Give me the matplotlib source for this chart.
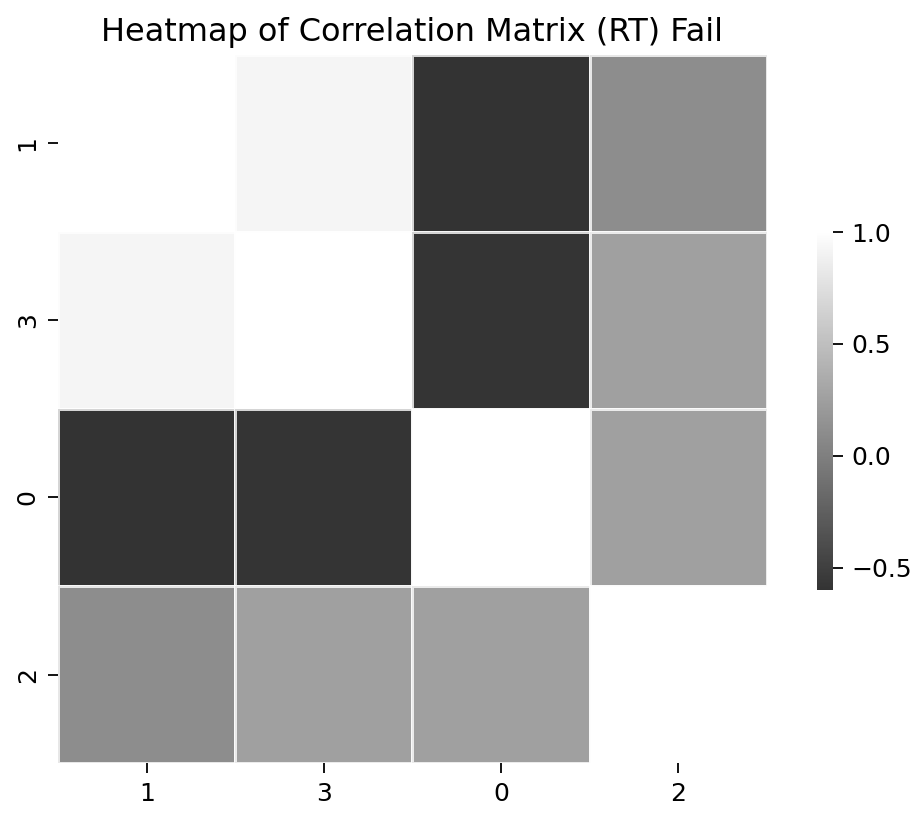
import numpy as np
import matplotlib.pyplot as plt
import seaborn as sns

labels = ["1", "3", "0", "2"]
corr = np.array([
    [1.00, 0.92, -0.60, 0.11],
    [0.92, 1.00, -0.59, 0.25],
    [-0.60, -0.59, 1.00, 0.25],
    [0.11, 0.25, 0.25, 1.00],
])
cbar_ticks = [-0.5, 0.0, 0.5, 1.0]

W, H = 920, 813
fig = plt.figure(figsize=(W / 100, H / 100), dpi=100)
ax = fig.add_axes([58 / W, 1 - 763 / H, 709 / W, 708 / H])
cax = fig.add_axes([817 / W, 1 - 590 / H, 16 / W, 358 / H])

sns.heatmap(corr, cmap="gray", alpha=0.8, square=True, linewidths=0.8,
            linecolor="white", xticklabels=labels, yticklabels=labels,
            ax=ax, cbar_ax=cax)
ax.set_title("Heatmap of Correlation Matrix (RT) Fail", fontsize=23, pad=10)
ax.tick_params(labelsize=18, length=7.5, width=1.3, pad=6)
cbar = ax.collections[0].colorbar
cbar.set_ticks(cbar_ticks)
cbar.ax.tick_params(labelsize=18, length=7, width=1.3, pad=6)
cbar.outline.set_visible(False)

plt.savefig("out.png")
